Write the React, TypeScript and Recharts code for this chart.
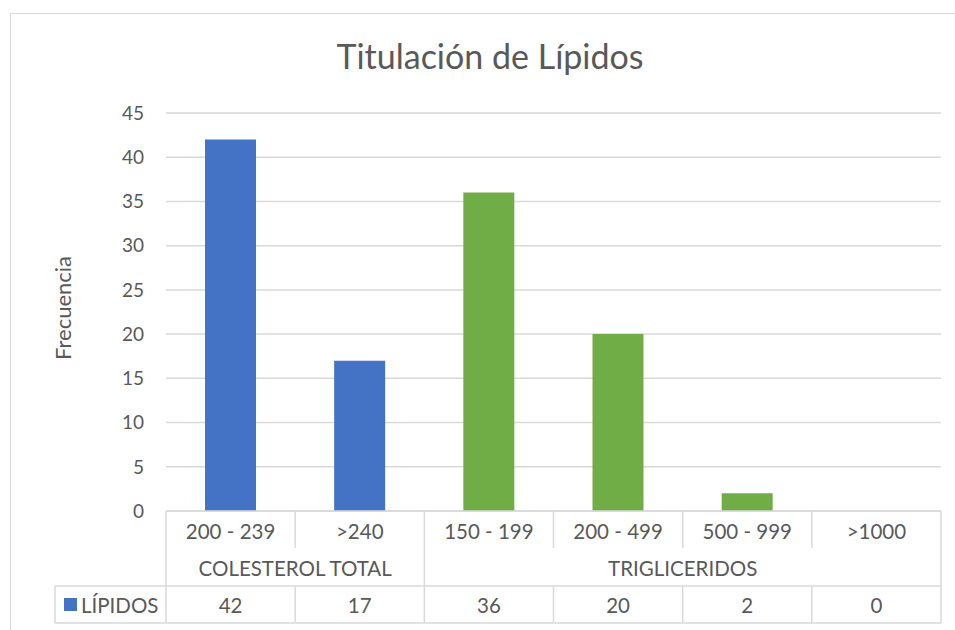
import React from 'react';
import { Bar, BarChart, CartesianGrid, Cell, XAxis, YAxis } from 'recharts';

const categories = ['200 - 239', '>240', '150 - 199', '200 - 499', '500 - 999', '>1000'];
const groupLabels = ['COLESTEROL TOTAL', 'TRIGLICERIDOS'];
const groupOf = [0, 0, 1, 1, 1, 1];
const values = [42, 17, 36, 20, 2, 0];
const yTicks = [0, 5, 10, 15, 20, 25, 30, 35, 40, 45];
const seriesName = 'LÍPIDOS';

const groupColors = ['#4472C4', '#70AD47'];
const GRID = '#d9d9d9';
const TEXT = '#595959';
const FONT = 'Lato, "Open Sans", sans-serif';

const W = 955;
const H = 630;
const PLOT_LEFT = 166;
const PLOT_RIGHT = 941;
const PLOT_TOP = 113;
const PLOT_BOTTOM = 511;
const ROW1_END = 548;
const ROW2_END = 586;
const ROW3_END = 623;
const LEGEND_LEFT = 55;
const BAND = (PLOT_RIGHT - PLOT_LEFT) / categories.length;

const data = categories.map((name, i) => ({
  name,
  value: values[i],
  group: groupOf[i]
}));

// draws the excel-like data table under the axis, one column per tick
const TableTick = (props: any) => {
  const { x, payload } = props;
  const i = props.index ?? payload.index;
  const left = x - BAND / 2;
  const right = x + BAND / 2;
  const g = groupOf[i];
  const groupStart = i === 0 || groupOf[i - 1] !== g;
  const last = i === categories.length - 1;
  const n = groupOf.filter(v => v === g).length;
  const txt = { fill: TEXT, fontSize: 20.5, fontFamily: FONT, textAnchor: 'middle' as const, dominantBaseline: 'central' as const };

  return (
    <g>
      <line x1={left} x2={left} y1={PLOT_BOTTOM} y2={groupStart ? ROW2_END : ROW1_END} stroke={GRID} strokeWidth={1.5} />
      <line x1={left} x2={left} y1={ROW2_END} y2={ROW3_END} stroke={GRID} strokeWidth={1.5} />
      {last && <line x1={right} x2={right} y1={PLOT_BOTTOM} y2={ROW3_END} stroke={GRID} strokeWidth={1.5} />}
      <line x1={left} x2={right} y1={ROW2_END} y2={ROW2_END} stroke={GRID} strokeWidth={1.5} />
      <line x1={left} x2={right} y1={ROW3_END} y2={ROW3_END} stroke={GRID} strokeWidth={1.5} />
      <text x={x} y={531} {...txt}>{payload.value}</text>
      {groupStart && (
        <text x={left + (n * BAND) / 2} y={568} {...txt}>{groupLabels[g]}</text>
      )}
      <text x={x} y={605} {...txt}>{values[i]}</text>
      {i === 0 && (
        <g>
          <line x1={LEGEND_LEFT} x2={left} y1={ROW2_END} y2={ROW2_END} stroke={GRID} strokeWidth={1.5} />
          <line x1={LEGEND_LEFT} x2={left} y1={ROW3_END} y2={ROW3_END} stroke={GRID} strokeWidth={1.5} />
          <line x1={LEGEND_LEFT} x2={LEGEND_LEFT} y1={ROW2_END} y2={ROW3_END} stroke={GRID} strokeWidth={1.5} />
          <rect x={64} y={598} width={13} height={13} fill={groupColors[0]} />
          <text x={81} y={605} {...txt} textAnchor="start">{seriesName}</text>
        </g>
      )}
    </g>
  );
};

const YTitle = () => (
  <text
    x={62}
    y={308}
    transform="rotate(-90 62 308)"
    textAnchor="middle"
    dominantBaseline="central"
    fill={TEXT}
    fontSize={22}
    fontFamily={FONT}
  >
    Frecuencia
  </text>
);

export default function App() {
  return (
    <div style={{ position: 'absolute', left: 0, top: 0, width: W, height: H, background: '#fff', overflow: 'hidden' }}>
      <div
        style={{
          position: 'absolute',
          left: 10,
          top: 13,
          width: W - 10,
          height: H - 13,
          borderTop: `1px solid ${GRID}`,
          borderLeft: `1px solid ${GRID}`,
          boxSizing: 'border-box'
        }}
      />
      <div
        style={{
          position: 'absolute',
          left: 490,
          top: 34,
          transform: 'translateX(-50%)',
          whiteSpace: 'nowrap',
          fontFamily: FONT,
          fontSize: 34,
          lineHeight: '44px',
          color: TEXT
        }}
      >
        Titulación de Lípidos
      </div>
      <BarChart
        width={W}
        height={H}
        data={data}
        margin={{ top: PLOT_TOP, right: W - PLOT_RIGHT, bottom: H - ROW3_END, left: PLOT_LEFT - 56 }}
        style={{ position: 'absolute', left: 0, top: 0 }}
      >
        <CartesianGrid vertical={false} stroke={GRID} strokeWidth={1.5} />
        <XAxis
          dataKey="name"
          interval={0}
          height={ROW3_END - PLOT_BOTTOM}
          axisLine={{ stroke: GRID, strokeWidth: 1.5 }}
          tickLine={false}
          tick={<TableTick />}
        />
        <YAxis
          width={56}
          domain={[0, 45]}
          ticks={yTicks}
          interval={0}
          axisLine={false}
          tickLine={false}
          tickMargin={16}
          tick={{ fill: TEXT, fontSize: 19, fontFamily: FONT }}
          label={{ content: () => <YTitle /> }}
        />
        <Bar dataKey="value" name={seriesName} barSize={51} isAnimationActive={false}>
          {data.map((d, i) => (
            <Cell key={i} fill={groupColors[d.group]} />
          ))}
        </Bar>
      </BarChart>
    </div>
  );
}
